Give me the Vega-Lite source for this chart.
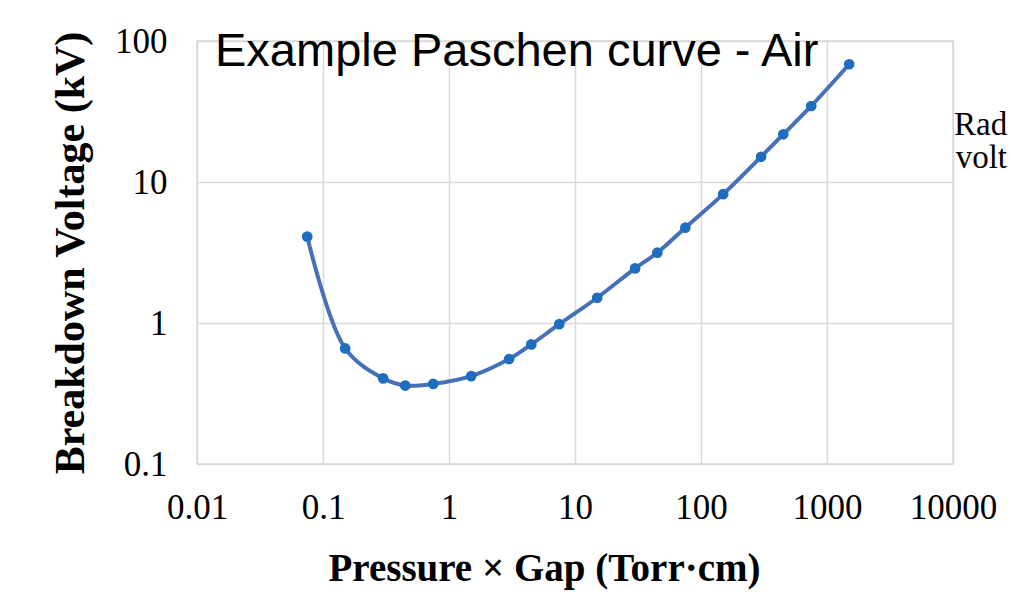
{
  "$schema": "https://vega.github.io/schema/vega-lite/v6.json",
  "autosize": {"type": "none"},
  "width": 756,
  "height": 423,
  "padding": {"left": 197, "top": 41, "right": 58, "bottom": 148},
  "background": "white",
  "title": {
    "text": "Example Paschen curve - Air",
    "font": "Liberation Sans",
    "fontSize": 47,
    "fontWeight": "normal",
    "color": "#000000",
    "anchor": "start",
    "frame": "group",
    "dx": 18,
    "dy": 56
  },
  "datasets": {
    "curve": [
      {"pd": 0.075, "kv": 4.1},
      {"pd": 0.15, "kv": 0.66},
      {"pd": 0.3, "kv": 0.405},
      {"pd": 0.45, "kv": 0.36},
      {"pd": 0.75, "kv": 0.37},
      {"pd": 1.5, "kv": 0.42},
      {"pd": 3, "kv": 0.555},
      {"pd": 4.5, "kv": 0.705},
      {"pd": 7.5, "kv": 0.98},
      {"pd": 15, "kv": 1.51},
      {"pd": 30, "kv": 2.44},
      {"pd": 45, "kv": 3.15},
      {"pd": 75, "kv": 4.74},
      {"pd": 150, "kv": 8.2},
      {"pd": 300, "kv": 15.1},
      {"pd": 450, "kv": 21.8},
      {"pd": 750, "kv": 34.6},
      {"pd": 1500, "kv": 68.4}
    ],
    "side": [
      {"pd": 10200, "kv": 21.5, "label": "Rad"},
      {"pd": 10500, "kv": 12.6, "label": "volt"}
    ]
  },
  "config": {
    "view": {"stroke": "#d9d9d9", "strokeWidth": 1.5},
    "axis": {
      "grid": true,
      "gridColor": "#d9d9d9",
      "gridWidth": 1.5,
      "domain": false,
      "ticks": false,
      "labelFont": "Liberation Serif",
      "labelFontSize": 35,
      "labelColor": "#000000",
      "titleFont": "Liberation Serif",
      "titleFontSize": 39,
      "titleFontWeight": "bold",
      "titleColor": "#000000"
    }
  },
  "layer": [
    {
      "data": {"name": "curve"},
      "mark": {"type": "line", "color": "#4670b8", "strokeWidth": 4, "interpolate": "catmull-rom"},
      "encoding": {
        "x": {
          "field": "pd",
          "type": "quantitative",
          "scale": {"type": "log", "domain": [0.01, 10000], "nice": false},
          "axis": {
            "title": "Pressure × Gap (Torr·cm)",
            "values": [0.01, 0.1, 1, 10, 100, 1000, 10000],
            "format": "~g",
            "labelPadding": 26,
            "titlePadding": 24,
            "titleX": 347,
            "labelFlush": false,
            "labelOverlap": false
          }
        },
        "y": {
          "field": "kv",
          "type": "quantitative",
          "scale": {"type": "log", "domain": [0.1, 100], "nice": false},
          "axis": {
            "title": "Breakdown Voltage (kV)",
            "titleFontSize": 42,
            "values": [0.1, 1, 10, 100],
            "format": "~g",
            "labelPadding": 30,
            "titlePadding": 22,
            "labelFlush": false,
            "labelOverlap": false
          }
        }
      }
    },
    {
      "data": {"name": "curve"},
      "mark": {"type": "point", "filled": true, "color": "#1f6dbf", "size": 115, "opacity": 1},
      "encoding": {
        "x": {"field": "pd", "type": "quantitative"},
        "y": {"field": "kv", "type": "quantitative"}
      }
    },
    {
      "data": {"name": "side"},
      "mark": {"type": "text", "align": "left", "baseline": "alphabetic", "font": "Liberation Serif", "fontSize": 33, "color": "#000000"},
      "encoding": {
        "x": {"field": "pd", "type": "quantitative"},
        "y": {"field": "kv", "type": "quantitative"},
        "text": {"field": "label"}
      }
    }
  ]
}
